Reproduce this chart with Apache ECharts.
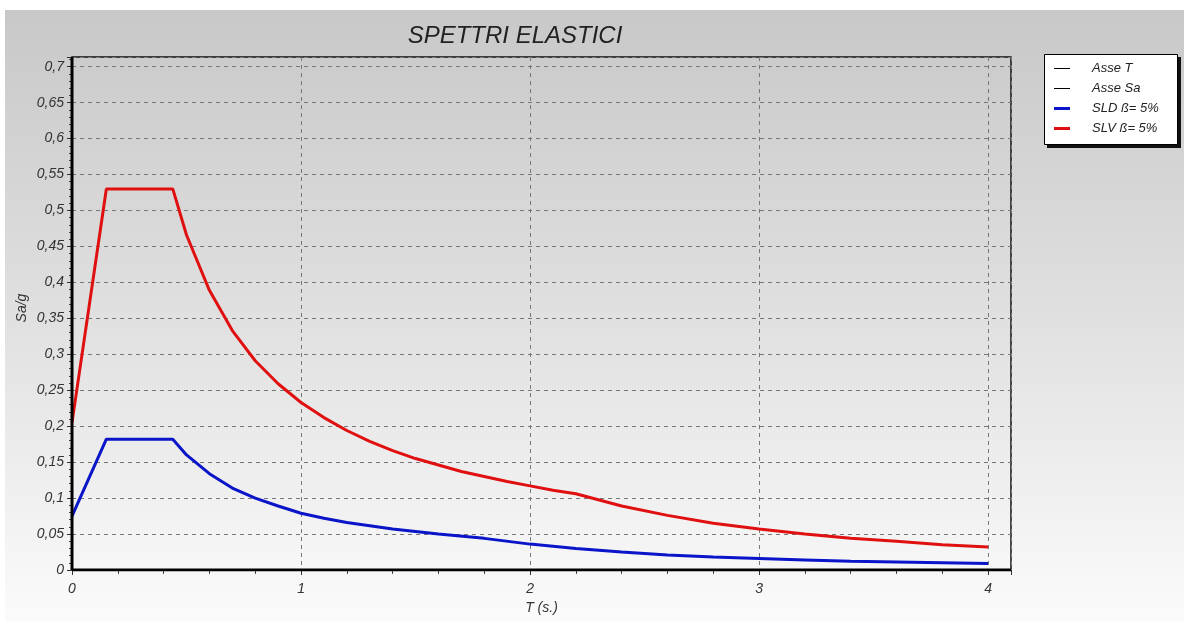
<!DOCTYPE html>
<html>
<head>
<meta charset="utf-8">
<script src="https://cdn.jsdelivr.net/npm/echarts@6/dist/echarts.min.js"></script>
<style>
html,body{margin:0;padding:0;background:#fff;}
#chart{width:1184px;height:622px;}
</style>
</head>
<body>
<div id="chart"></div>
<script>
// ---- data ----
const titleText = 'SPETTRI ELASTICI';
const xAxisName = 'T (s.)';
const yAxisName = 'Sa/g';
const seriesNames = ['Asse T', 'Asse Sa', 'SLD ß= 5%', 'SLV ß= 5%'];

const assePoints = [[0, 0], [4.1, 0]];
const asseSaPoints = [[0, 0], [0, 0.7135]];

const sldT  = [0, 0.15, 0.44, 0.5, 0.6, 0.7, 0.8, 0.9, 1.0, 1.1, 1.2, 1.4, 1.6, 1.8, 2.0, 2.2, 2.4, 2.6, 2.8, 3.0, 3.2, 3.4, 3.6, 3.8, 4.0];
const sldSa = [0.075, 0.182, 0.182, 0.160, 0.134, 0.114, 0.100, 0.089, 0.079, 0.072, 0.066, 0.057, 0.050, 0.044, 0.036, 0.030, 0.025, 0.021, 0.018, 0.016, 0.014, 0.012, 0.011, 0.010, 0.009];

const slvT  = [0, 0.15, 0.44, 0.5, 0.6, 0.7, 0.8, 0.9, 1.0, 1.1, 1.2, 1.3, 1.4, 1.5, 1.6, 1.7, 1.8, 1.9, 2.0, 2.1, 2.2, 2.4, 2.6, 2.8, 3.0, 3.2, 3.4, 3.6, 3.8, 4.0];
const slvSa = [0.205, 0.530, 0.530, 0.466, 0.389, 0.333, 0.291, 0.259, 0.233, 0.212, 0.194, 0.179, 0.166, 0.155, 0.146, 0.137, 0.130, 0.123, 0.117, 0.111, 0.106, 0.089, 0.076, 0.065, 0.057, 0.050, 0.044, 0.040, 0.035, 0.032];

const xMin = 0, xMax = 4.1, xStep = 1;
const yMin = 0, yMax = 0.7135, yStep = 0.05;

const seriesColors = ['#000000', '#000000', '#0a14c8', '#e01010'];
const seriesWidths = [3, 3, 3, 3];

function pairs(xs, ys){ return xs.map((x,i)=>[x, ys[i]]); }
function fmt(v){
  let s = (Math.round(v*1000)/1000).toString();
  return s.replace('.', ',');
}

const chart = echarts.init(document.getElementById('chart'), null, {renderer:'canvas'});
const font = 'Liberation Sans, Arial, sans-serif';

chart.setOption({
  animation: false,
  backgroundColor: '#ffffff',
  graphic: [{
    type: 'rect',
    z: -10,
    silent: true,
    shape: {x: 5, y: 10, width: 1179, height: 612},
    style: {
      fill: new echarts.graphic.LinearGradient(0, 0, 0, 1, [
        {offset: 0, color: '#c8c8c8'},
        {offset: 0.5, color: '#e0e0e0'},
        {offset: 1, color: '#fbfbfb'}
      ])
    }
  }, {
    type: 'rect',
    z: -6,
    silent: true,
    shape: {x: 1047, y: 57, width: 134, height: 91},
    style: {fill: '#111'}
  }, {
    type: 'rect',
    z: -5,
    silent: true,
    shape: {x: 1044.5, y: 54.5, width: 133, height: 90},
    style: {fill: '#ffffff', stroke: '#000', lineWidth: 1}
  }, {
    type: 'text',
    z: 10,
    silent: true,
    x: 22, y: 308,
    rotation: Math.PI / 2,
    style: {text: yAxisName, fontFamily: font, fontStyle: 'italic', fontSize: 14, fill: '#333', align: 'center', verticalAlign: 'middle'}
  }],
  title: {
    text: titleText,
    left: 510,
    top: 19,
    textAlign: 'center',
    textStyle: {fontFamily: font, fontStyle: 'italic', fontWeight: 'normal', fontSize: 24, color: '#222'}
  },
  legend: {
    orient: 'vertical',
    left: 1054,
    top: 62,
    padding: 0,
    itemGap: 7,
    itemWidth: 16,
    itemHeight: 13,
    symbolKeepAspect: true,
    backgroundColor: 'transparent',
    data: [
      {name: seriesNames[0], icon: 'path://M0,0H16V1H0Z'},
      {name: seriesNames[1], icon: 'path://M0,0H16V1H0Z'},
      {name: seriesNames[2], icon: 'path://M0,0H16V3H0Z'},
      {name: seriesNames[3], icon: 'path://M0,0H16V3H0Z'}
    ],
    textStyle: {fontFamily: font, fontStyle: 'italic', fontSize: 13, color: '#222', padding: [0,0,0,17]}
  },
  grid: {
    left: 72, right: 173, top: 57, bottom: 52,
    show: true,
    borderColor: '#111',
    borderWidth: 1.5,
    backgroundColor: 'transparent'
  },
  xAxis: {
    type: 'value',
    min: xMin, max: xMax, interval: xStep,
    name: xAxisName,
    nameLocation: 'middle',
    nameGap: 30,
    nameTextStyle: {fontFamily: font, fontStyle: 'italic', fontSize: 14, color: '#333'},
    axisLine: {show: false},
    axisTick: {show: true, length: 5, lineStyle: {color: '#333', width: 1}},
    minorTick: {show: true, splitNumber: 5, length: 4, lineStyle: {color: '#444'}},
    axisLabel: {showMaxLabel: false, margin: 12, fontFamily: font, fontStyle: 'italic', fontSize: 14, color: '#333', formatter: fmt},
    splitLine: {show: true, lineStyle: {color: '#777', type: [4, 4], width: 1}}
  },
  yAxis: {
    type: 'value',
    min: yMin, max: yMax, interval: yStep,
    axisLine: {show: false},
    axisTick: {show: true, length: 5, lineStyle: {color: '#333', width: 1}},
    minorTick: {show: true, splitNumber: 5, length: 3, lineStyle: {color: '#444'}},
    axisLabel: {showMaxLabel: false, margin: 8, fontFamily: font, fontStyle: 'italic', fontSize: 14, color: '#333', formatter: fmt},
    splitLine: {show: true, lineStyle: {color: '#777', type: [4, 4], width: 1}}
  },
  series: seriesNames.map((name, i) => ({
    name: name,
    type: 'line',
    data: [assePoints, asseSaPoints, pairs(sldT, sldSa), pairs(slvT, slvSa)][i],
    symbol: 'none',
    color: seriesColors[i],
    lineStyle: {color: seriesColors[i], width: seriesWidths[i]},
    z: i < 2 ? 5 : 4
  }))
});
</script>
</body>
</html>
